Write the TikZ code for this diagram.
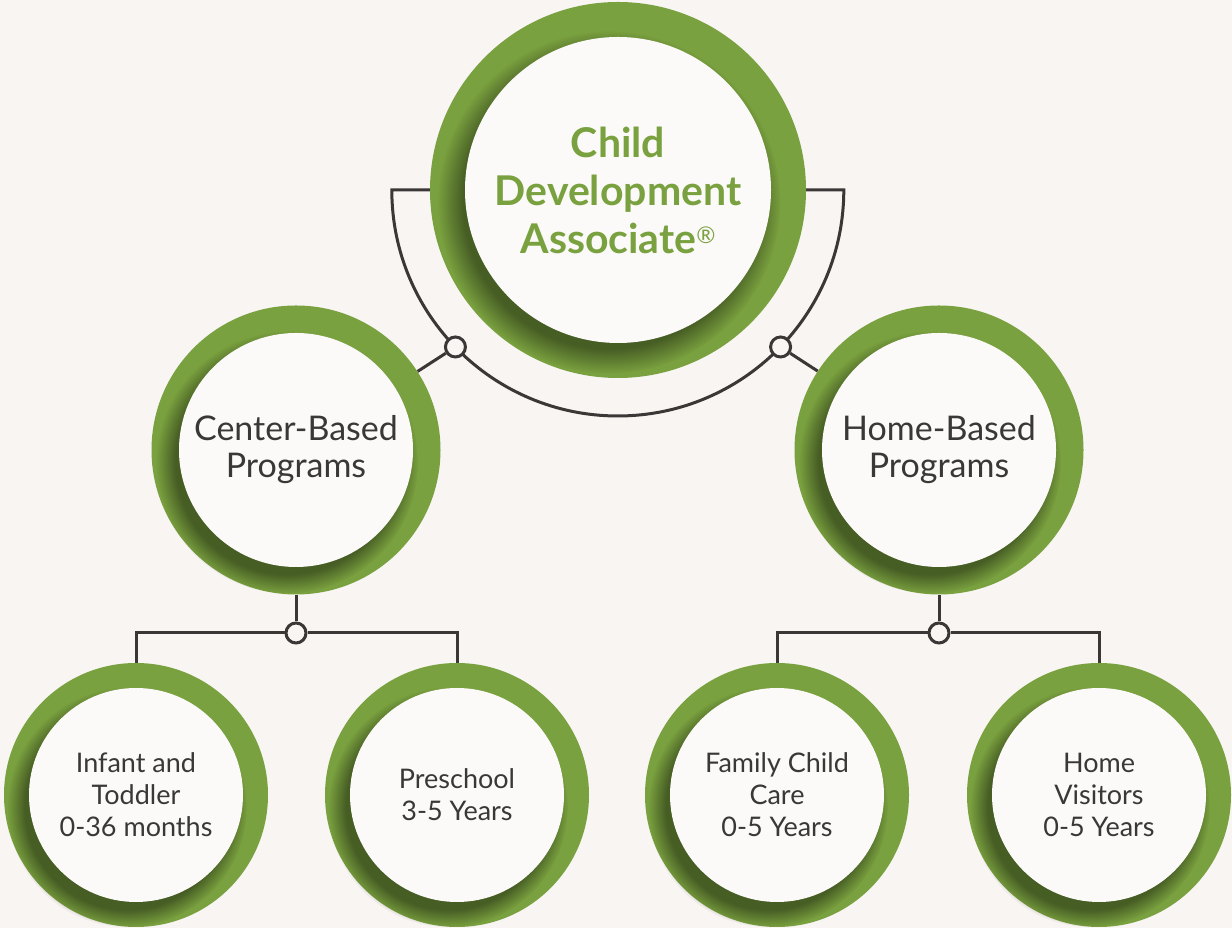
\documentclass[tikz,border=0pt]{standalone}
\usepackage{fontspec}
\setmainfont{Lato}
\usetikzlibrary{positioning,shadows,calc}
\definecolor{cdagreen}{HTML}{7AA13F}
\definecolor{paper}{HTML}{F8F5F2}
\definecolor{disccol}{HTML}{FBFAF9}
\definecolor{inkgray}{HTML}{3B3737}
\pgfdeclarelayer{links}
\pgfsetlayers{links,main}

\tikzset{
    ring/.style={circle, fill=cdagreen, inner sep=0pt},
    disc/.style={circle, fill=disccol, inner sep=0pt, align=center, text=inkgray,
        circular drop shadow={shadow xshift=-8pt, shadow yshift=-11pt, shadow scale=1.12, fill=black, opacity=0.42}},
    link/.style={draw=inkgray, line width=3pt},
    joint/.style={circle, draw=inkgray, fill=paper, line width=3pt, inner sep=0pt, minimum size=20pt},
    midtext/.style={font=\fontsize{34}{37}\selectfont},
    lowtext/.style={font=\fontsize{27}{32}\selectfont}
}

\begin{document}
\begin{tikzpicture}[x=1pt, y=1pt]
    \begin{pgfonlayer}{links}
        \fill[paper] (0,0) rectangle (1232,928);
    \end{pgfonlayer}
    \useasboundingbox (0,0) rectangle (1232,928);

    % top
    \node[ring, minimum size=376pt] (cda) at (618,738) {};
    \node[disc, minimum size=306pt, text=cdagreen, font=\fontsize{41}{48}\selectfont\bfseries] (cda-in) at (cda) {Child\\Development\\Associate{\mdseries\fontsize{23}{23}\selectfont\raisebox{10pt}{®}}};

    % middle
    \node[ring, minimum size=289pt] (cbp) at (296,478) {};
    \node[disc, minimum size=234pt, midtext] (cbp-in) at (cbp) {Center-Based\\Programs};
    \node[ring, minimum size=289pt] (hbp) at (939,478) {};
    \node[disc, minimum size=234pt, midtext] (hbp-in) at (hbp) {Home-Based\\Programs};

    % bottom
    \node[ring, minimum size=264pt] (itd) at (136,133) {};
    \node[disc, minimum size=214pt, lowtext] (itd-in) at (itd) {Infant and\\Toddler\\0-36 months};
    \node[ring, minimum size=264pt] (pre) at (457,133) {};
    \node[disc, minimum size=214pt, lowtext] (pre-in) at (pre) {Preschool\\3-5 Years};
    \node[ring, minimum size=264pt] (fcc) at (777,133) {};
    \node[disc, minimum size=214pt, lowtext] (fcc-in) at (fcc) {Family Child\\Care\\0-5 Years};
    \node[ring, minimum size=264pt] (hv) at (1099,133) {};
    \node[disc, minimum size=214pt, lowtext] (hv-in) at (hv) {Home\\Visitors\\0-5 Years};

    % joints
    \node[joint] (jl) at ($(cda.center)+(224:226)$) {};
    \node[joint] (jr) at ($(cda.center)+(316:226)$) {};
    \node[joint] (jcb) at (296,295) {};
    \node[joint] (jhb) at (939,295) {};

    \begin{pgfonlayer}{links}
        \draw[link] (cda.west) -- ++(-38,0) arc[start angle=180, end angle=360, radius=226] -- (cda.east);
        \draw[link] (jl) -- (cbp);
        \draw[link] (jr) -- (hbp);
        \draw[link] (cbp) -- (jcb);
        \draw[link] (jhb) -- (hbp);
        \draw[link] (jcb) -| (itd);
        \draw[link] (jcb) -| (pre);
        \draw[link] (jhb) -| (fcc);
        \draw[link] (jhb) -| (hv);
    \end{pgfonlayer}
\end{tikzpicture}
\end{document}
